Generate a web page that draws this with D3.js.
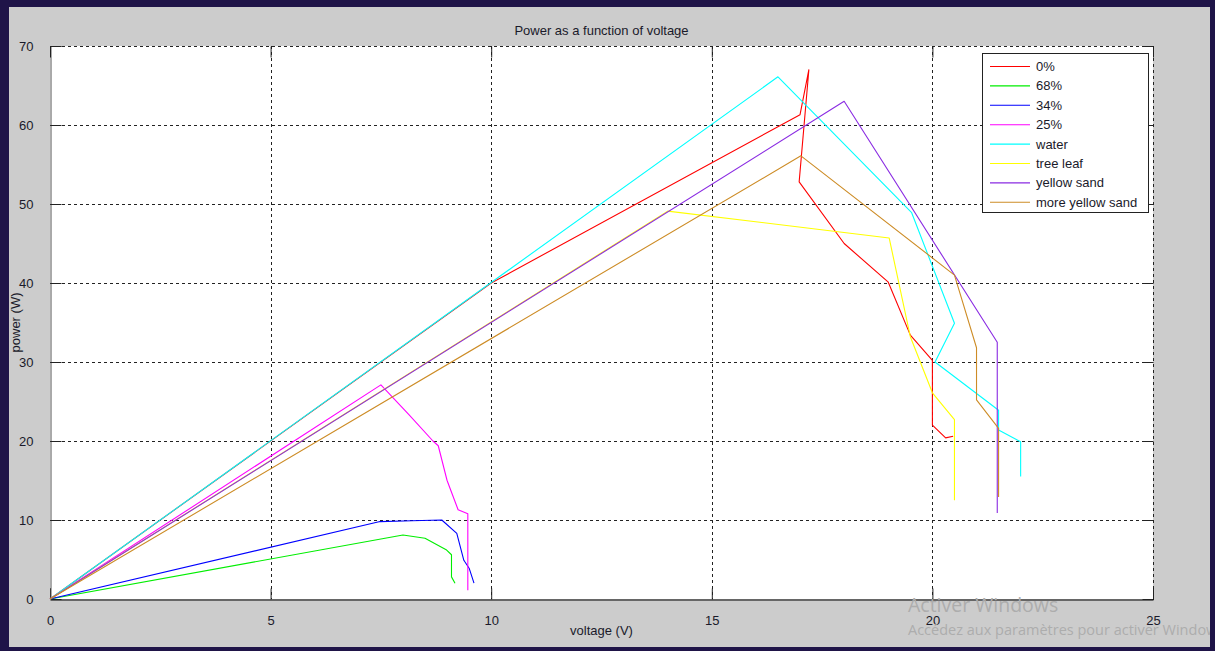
<!DOCTYPE html>
<html>
<head>
<meta charset="utf-8">
<script src="https://cdn.jsdelivr.net/npm/d3@7"></script>
<style>
  html, body { margin: 0; padding: 0; background: #cccccc; overflow: hidden; }
  svg { display: block; font-family: "Liberation Sans", Arial, sans-serif; }
</style>
</head>
<body>
<svg id="chart"></svg>
<script>
    //-------------------
    // DATA
    //-------------------
    var seriesNames = ["0%", "68%", "34%", "25%", "water", "tree leaf", "yellow sand", "more yellow sand"];
    var seriesColors = ["#ff0000", "#00ee00", "#0000ff", "#ff00ff", "#00ffff", "#ffff00", "#8a2be2", "#cd8c26"];

    var voltsRed = [0, 10, 17.0, 17.2, 16.98, 18.0, 19.0, 19.5, 20.0, 20.0, 20.3, 20.47];
    var powerRed = [0, 40, 61.3, 67.0, 52.8, 45.0, 40.1, 33.4, 30.2, 22.0, 20.4, 20.6];

    var voltsGreen = [0, 8.0, 8.5, 8.99, 9.1, 9.1, 9.18];
    var powerGreen = [0, 8.1, 7.7, 6.2, 5.6, 2.8, 2.0];

    var voltsBlue = [0, 7.48, 8.2, 8.88, 9.22, 9.38, 9.5, 9.61];
    var powerBlue = [0, 9.8, 9.9, 10.0, 8.3, 4.9, 3.9, 2.0];

    var voltsMagenta = [0, 7.5, 8.14, 8.68, 8.8, 9.0, 9.25, 9.47, 9.47];
    var powerMagenta = [0, 27.1, 23.3, 20.0, 19.4, 15.0, 11.3, 10.8, 1.1];

    var voltsWater = [0, 16.5, 19.53, 20.5, 20.06, 21.5, 21.5, 22.0, 22.0];
    var powerWater = [0, 66.1, 48.9, 34.9, 30.0, 23.9, 21.4, 19.9, 15.5];

    var voltsLeaf = [0, 14.0, 19.02, 19.5, 20.0, 20.5, 20.5];
    var powerLeaf = [0, 49.1, 45.7, 33.2, 26.1, 22.7, 12.5];

    var voltsSand = [0, 18.0, 21.47, 21.47];
    var powerSand = [0, 63.0, 32.5, 10.9];

    var voltsMoreSand = [0, 17.02, 20.5, 21.0, 21.0, 21.5, 21.5];
    var powerMoreSand = [0, 56.1, 41.0, 31.8, 25.2, 21.6, 12.9];

    var xTicks = [0, 5, 10, 15, 20, 25];
    var yTicks = [0, 10, 20, 30, 40, 50, 60, 70];

    var allVolts = [voltsRed, voltsGreen, voltsBlue, voltsMagenta, voltsWater, voltsLeaf, voltsSand, voltsMoreSand];
    var allPower = [powerRed, powerGreen, powerBlue, powerMagenta, powerWater, powerLeaf, powerSand, powerMoreSand];

    //-------------------
    // SETUP
    //-------------------
    var width = 1215, height = 651;
    var plot = { left: 50, right: 1153, top: 46, bottom: 599 };

    var svg = d3.select("#chart")
        .attr("width", width)
        .attr("height", height);

    svg.append("rect")
        .attr("width", width).attr("height", height)
        .attr("fill", "#cccccc");

    var x = d3.scaleLinear().domain([0, 25]).range([plot.left, plot.right]);
    var y = d3.scaleLinear().domain([0, 70]).range([plot.bottom, plot.top]);

    svg.append("rect")
        .attr("x", plot.left).attr("y", plot.top)
        .attr("width", plot.right - plot.left)
        .attr("height", plot.bottom - plot.top)
        .attr("fill", "#ffffff");

    //-------------------
    // GRID
    //-------------------
    var grid = svg.append("g").attr("class", "grid")
        .attr("stroke", "#222").attr("stroke-width", 1)
        .attr("stroke-dasharray", "3,3").attr("shape-rendering", "crispEdges");

    grid.selectAll("line.gx").data(xTicks.slice(1))
        .enter().append("line")
        .attr("x1", d => Math.round(x(d)) + 0.5).attr("x2", d => Math.round(x(d)) + 0.5)
        .attr("y1", plot.top).attr("y2", plot.bottom);

    grid.selectAll("line.gy").data(yTicks.slice(1))
        .enter().append("line")
        .attr("x1", plot.left).attr("x2", plot.right)
        .attr("y1", d => Math.round(y(d)) + 0.5).attr("y2", d => Math.round(y(d)) + 0.5);

    //-------------------
    // AXES
    //-------------------
    var xAxis = d3.axisBottom(x).tickValues(xTicks).tickSize(-11).tickPadding(16);
    var yAxis = d3.axisLeft(y).tickValues(yTicks).tickSize(-11).tickPadding(17);

    var gx = svg.append("g")
        .attr("transform", "translate(0," + (plot.bottom + 0.5) + ")")
        .call(xAxis);
    gx.select(".domain").attr("stroke", "#000");

    var gy = svg.append("g")
        .attr("transform", "translate(" + (plot.left + 0.5) + ",0)")
        .call(yAxis);
    gy.select(".domain").attr("stroke", "#555");

    // inward ticks on top and right
    svg.append("g")
        .attr("transform", "translate(0," + (plot.top + 0.5) + ")")
        .call(d3.axisTop(x).tickValues(xTicks).tickSize(-11).tickFormat(""))
        .select(".domain").remove();
    svg.append("g")
        .attr("transform", "translate(" + (plot.right + 0.5) + ",0)")
        .call(d3.axisRight(y).tickValues(yTicks).tickSize(-11).tickFormat(""))
        .select(".domain").remove();

    svg.selectAll(".tick line").attr("stroke", "#222");
    svg.selectAll(".tick text")
        .attr("font-size", 13)
        .attr("font-family", "'Liberation Sans', Arial, sans-serif")
        .attr("fill", "#1a1a2a");

    //-------------------
    // CURVES
    //-------------------
    var line = d3.line()
        .x(d => x(d[0]))
        .y(d => y(d[1]));

    var curves = allVolts.map((vs, i) => vs.map((v, j) => [v, allPower[i][j]]));

    svg.append("g").selectAll("path.curve").data(curves)
        .enter().append("path")
        .attr("class", "curve")
        .attr("d", line)
        .attr("fill", "none")
        .attr("stroke", (d, i) => seriesColors[i])
        .attr("stroke-width", 1.1)
        .attr("stroke-linejoin", "round");

    //-------------------
    // LEGEND
    //-------------------
    var legend = svg.append("g").attr("transform", "translate(982,53)");
    legend.append("rect")
        .attr("x", 0.5).attr("y", 0.5)
        .attr("width", 166).attr("height", 159)
        .attr("fill", "#fff").attr("stroke", "#222").attr("stroke-width", 1);

    var items = legend.selectAll("g.item").data(seriesNames)
        .enter().append("g")
        .attr("class", "item")
        .attr("transform", (d, i) => "translate(0," + (13.5 + i * 19.4) + ")");
    items.append("line")
        .attr("x1", 8).attr("x2", 48)
        .attr("stroke", (d, i) => seriesColors[i])
        .attr("stroke-width", 1.1);
    items.append("text")
        .attr("x", 54).attr("y", 4.5)
        .attr("font-size", 13)
        .attr("fill", "#1a1a2a")
        .text(d => d);

    //-------------------
    // TITLES
    //-------------------
    svg.append("text")
        .attr("x", (plot.left + plot.right) / 2).attr("y", 35)
        .attr("text-anchor", "middle").attr("font-size", 13).attr("fill", "#1a1a2a")
        .text("Power as a function of voltage");

    svg.append("text")
        .attr("x", (plot.left + plot.right) / 2).attr("y", 635)
        .attr("text-anchor", "middle").attr("font-size", 13).attr("fill", "#1a1a2a")
        .text("voltage (V)");

    svg.append("text")
        .attr("transform", "translate(20," + ((plot.top + plot.bottom) / 2) + ") rotate(-90)")
        .attr("text-anchor", "middle").attr("font-size", 13).attr("fill", "#1a1a2a")
        .text("power (W)");

    //-------------------
    // WATERMARK
    //-------------------
    svg.append("text")
        .attr("x", 908).attr("y", 612)
        .attr("font-family", "'Open Sans', 'Noto Sans', sans-serif")
        .attr("font-size", 19.5).attr("fill", "#adadad")
        .text("Activer Windows");
    svg.append("text")
        .attr("x", 908).attr("y", 635)
        .attr("font-family", "'Open Sans', 'Noto Sans', sans-serif")
        .attr("font-size", 14.5).attr("fill", "#adadad")
        .text("Accédez aux paramètres pour activer Windows.");

    //-------------------
    // FRAME
    //-------------------
    var frame = "#1f1448";
    svg.append("rect").attr("x", 0).attr("y", 0).attr("width", width).attr("height", 7).attr("fill", frame);
    svg.append("rect").attr("x", 0).attr("y", 0).attr("width", 9).attr("height", height).attr("fill", frame);
    svg.append("rect").attr("x", 1210).attr("y", 0).attr("width", 5).attr("height", height).attr("fill", frame);
    svg.append("rect").attr("x", 0).attr("y", 647).attr("width", width).attr("height", 4).attr("fill", frame);
</script>
</body>
</html>
